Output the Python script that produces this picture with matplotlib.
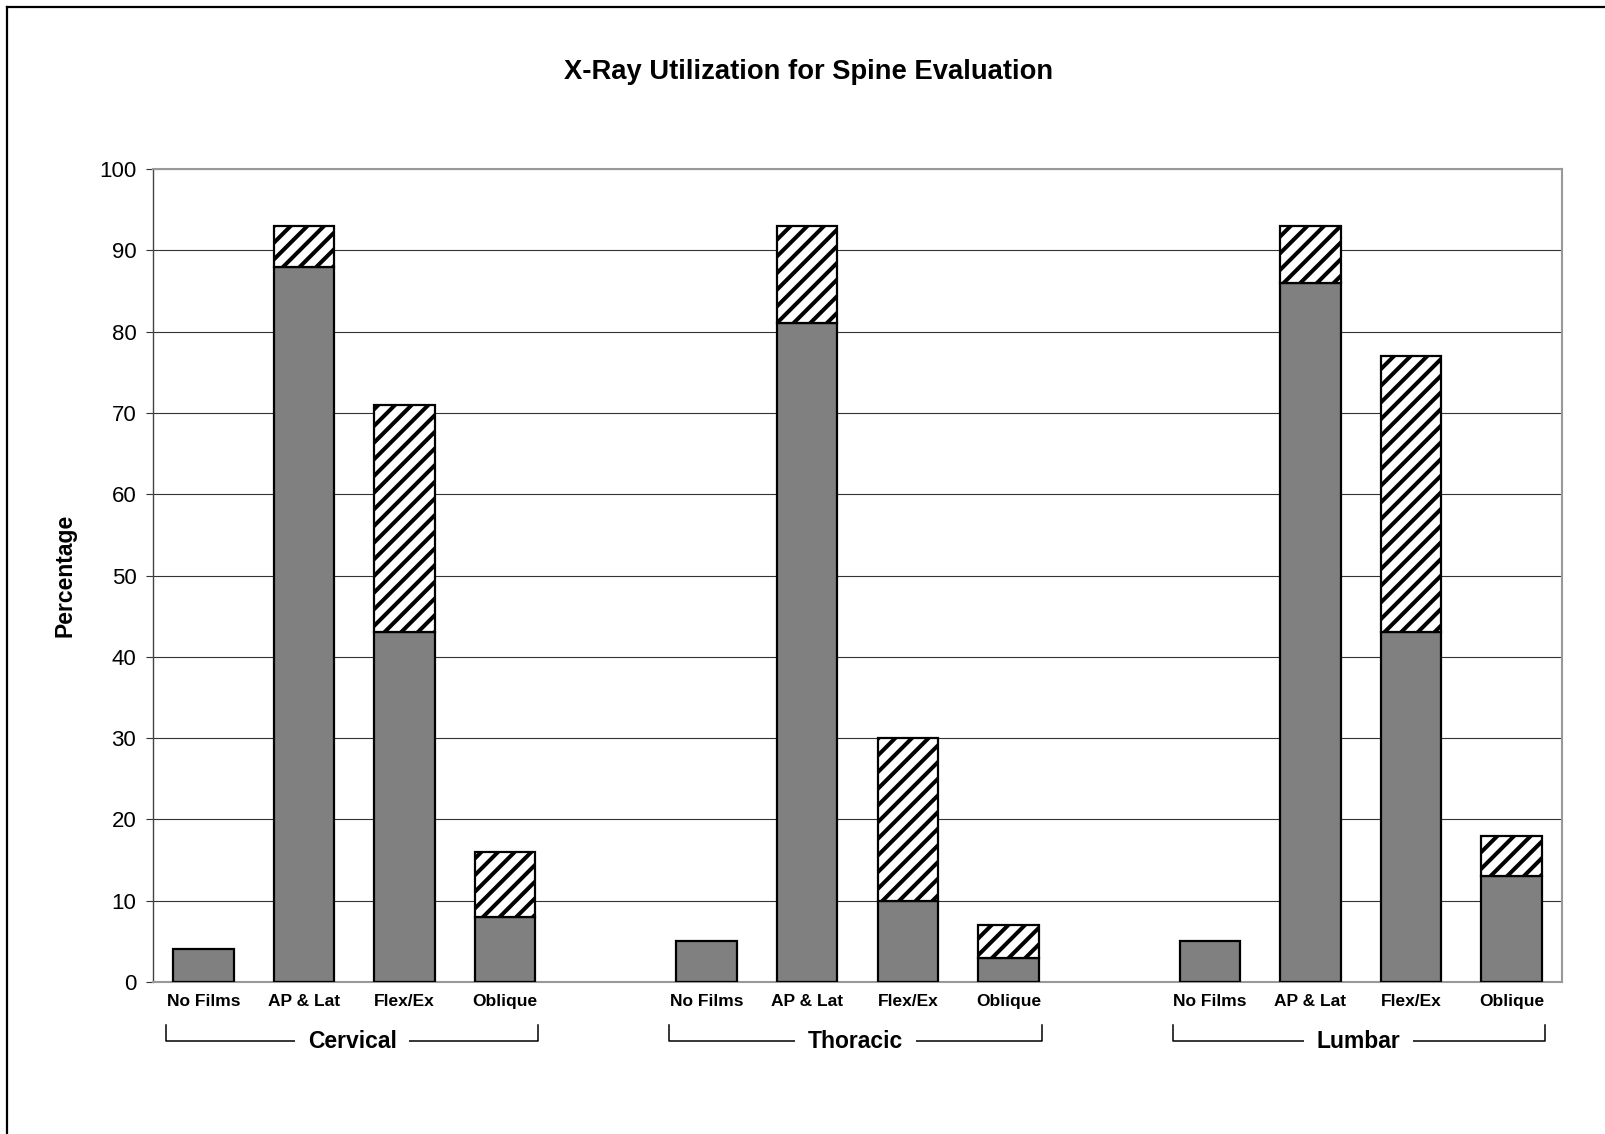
import matplotlib
matplotlib.use("Agg")
import matplotlib.pyplot as plt
from matplotlib.lines import Line2D
import numpy as np

plt.rcParams["font.family"] = ["Liberation Sans", "DejaVu Sans"]
plt.rcParams["hatch.linewidth"] = 2.9

groups = ["Cervical", "Thoracic", "Lumbar"]
films = ["No Films", "AP & Lat", "Flex/Ex", "Oblique"]

# solid grey part and hatched part stacked on top (percent)
cervical_solid = [4, 88, 43, 8]
cervical_hatch = [0, 5, 28, 8]
thoracic_solid = [5, 81, 10, 3]
thoracic_hatch = [0, 12, 20, 4]
lumbar_solid = [5, 86, 43, 13]
lumbar_hatch = [0, 7, 34, 5]

solid = [cervical_solid, thoracic_solid, lumbar_solid]
hatched = [cervical_hatch, thoracic_hatch, lumbar_hatch]

W, H = 1606, 1134
fig = plt.figure(figsize=(W / 100, H / 100), dpi=100)
ax = fig.add_axes([153 / W, 1 - 982 / H, 1409 / W, 813 / H])

for g in range(len(groups)):
    x = np.arange(len(films)) + g * (len(films) + 1)
    ax.bar(x, solid[g], width=0.6, color="#808080", edgecolor="black",
           linewidth=1.6, zorder=3)
    h = np.array(hatched[g])
    keep = h > 0
    ax.bar(x[keep], h[keep], bottom=np.array(solid[g])[keep], width=0.6,
           color="white", edgecolor="black", hatch="//", linewidth=1.6,
           zorder=3)

    # film type labels under each bar
    for xi, name in zip(x, films):
        ax.text(xi, -0.0295, name, transform=ax.get_xaxis_transform(),
                ha="center", va="baseline", fontsize=12.5, fontweight="bold",
                clip_on=False)

    # bracket with the region name
    x0, x1 = x[0] - 0.37, x[-1] + 0.33
    ax.plot([x0, x0, x1, x1], [-0.053, -0.0726, -0.0726, -0.053],
            transform=ax.get_xaxis_transform(), color="black", lw=1.1,
            clip_on=False)
    ax.text((x0 + x1) / 2, -0.0726, groups[g], transform=ax.get_xaxis_transform(),
            ha="center", va="center", fontsize=16.5, fontweight="bold",
            bbox=dict(boxstyle="square,pad=0.55", facecolor="white",
                      edgecolor="none"), clip_on=False)

ax.set_xlim(-0.5, 13.5)
ax.set_ylim(0, 100)
ax.set_yticks(np.arange(0, 101, 10))
ax.set_xticks([])
ax.yaxis.grid(True, color="#333333", linewidth=0.8, zorder=0)
ax.set_axisbelow(True)
ax.tick_params(axis="y", labelsize=16, length=5, width=0.8, color="#333333",
               pad=7)

for side in ["top", "right", "bottom"]:
    ax.spines[side].set_color("#999999")
    ax.spines[side].set_linewidth(1.5)
ax.spines["left"].set_color("#444444")
ax.spines["left"].set_linewidth(1.0)

ax.set_ylabel("Percentage", fontsize=16.5, fontweight="bold", labelpad=16)
fig.text(809 / W, 1 - 72 / H, "X-Ray Utilization for Spine Evaluation",
         ha="center", va="center", fontsize=19.7, fontweight="bold")

# outer frame (only top and left edges are visible)
fig.add_artist(Line2D([7 / W, 1], [1 - 6.5 / H, 1 - 6.5 / H],
                      transform=fig.transFigure, color="black", lw=1.6))
fig.add_artist(Line2D([7.5 / W, 7.5 / W], [0, 1 - 6.5 / H],
                      transform=fig.transFigure, color="black", lw=1.6))

fig.savefig("out.png", dpi=100)
